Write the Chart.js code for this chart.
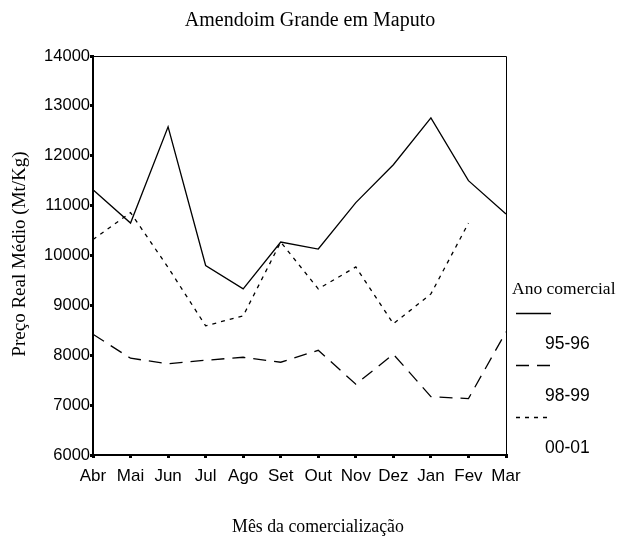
<!DOCTYPE html>
<html>
<head>
<meta charset="utf-8">
<script src="https://cdn.jsdelivr.net/npm/chart.js@4"></script>
<style>
  body { margin: 0; background: #fff; }
  canvas { display: block; }
</style>
</head>
<body>
<canvas id="chart" width="621" height="537"></canvas>
<script>
/* DATA */
const months = ["Abr", "Mai", "Jun", "Jul", "Ago", "Set", "Out", "Nov", "Dez", "Jan", "Fev", "Mar"];
const seasons = ["95-96", "98-99", "00-01"];
const prices9596 = [11320, 10650, 12580, 9800, 9330, 10270, 10130, 11060, 11820, 12760, 11500, 10830];
const prices9899 = [8420, 7940, 7830, 7900, 7960, 7860, 8100, 7420, 8020, 7170, 7130, 8470];
const prices0001 = [10320, 10860, 9760, 8590, 8790, 10270, 9330, 9770, 8630, 9230, 10650, null];
const yTicks = [6000, 7000, 8000, 9000, 10000, 11000, 12000, 13000, 14000];

const chartTitle = "Amendoim Grande em Maputo";
const xTitle = "Mês da comercialização";
const yTitle = "Preço Real Médio (Mt/Kg)";
const legendTitle = "Ano comercial";

/* STYLE */
const SERIF = "'Liberation Serif', 'Times New Roman', serif";
const SANS = "'Liberation Sans', Arial, sans-serif";
const dashes = [[], [13, 8], [4, 5]];

// title, frame, axis titles and the legend on the right
const extrasPlugin = {
  id: "extras",
  afterDraw(chart) {
    const ctx = chart.ctx;
    const area = chart.chartArea;
    ctx.save();

    // top + right border of the plot box
    ctx.strokeStyle = "#000";
    ctx.lineWidth = 1;
    ctx.beginPath();
    ctx.moveTo(area.left, area.top + 0.5);
    ctx.lineTo(area.right + 0.5, area.top + 0.5);
    ctx.lineTo(area.right + 0.5, area.bottom);
    ctx.stroke();

    ctx.fillStyle = "#000";
    ctx.textBaseline = "middle";
    ctx.textAlign = "center";

    // main title
    ctx.font = `20px ${SERIF}`;
    ctx.fillText(chartTitle, 310, 21);

    // x title
    ctx.font = `17.8px ${SERIF}`;
    ctx.fillText(xTitle, 318, 527);

    // y title
    ctx.save();
    ctx.font = `19px ${SERIF}`;
    ctx.translate(20, 254);
    ctx.rotate(-Math.PI / 2);
    ctx.fillText(yTitle, 0, 0);
    ctx.restore();

    // legend
    ctx.textAlign = "left";
    ctx.font = `17.5px ${SERIF}`;
    ctx.fillText(legendTitle, 512, 289);

    chart.data.datasets.forEach((ds, i) => {
      const y = 313.5 + i * 52;
      ctx.setLineDash(ds.borderDash);
      ctx.lineWidth = ds.borderWidth;
      ctx.beginPath();
      ctx.moveTo(516, y);
      ctx.lineTo(551, y);
      ctx.stroke();
      ctx.setLineDash([]);
      ctx.font = `17.5px ${SANS}`;
      ctx.fillText(ds.label, 545, y + 31);
    });

    ctx.restore();
  },
};

const chartCanvas = document.getElementById("chart");

const seriesValues = [prices9596, prices9899, prices0001];

const lineChart = new Chart(chartCanvas, {
  type: "line",
  data: {
    labels: months,
    datasets: seasons.map((season, i) => ({
      label: season,
      data: seriesValues[i],
      borderColor: "#000",
      borderWidth: 1.3,
      borderDash: dashes[i],
      pointRadius: 0,
      fill: false,
      tension: 0,
      spanGaps: false,
    })),
  },
  options: {
    responsive: false,
    animation: false,
    devicePixelRatio: 1,
    layout: {
      padding: { left: 0, right: 115, top: 56, bottom: 0 },
    },
    plugins: {
      legend: { display: false },
      tooltip: { enabled: false },
      title: { display: false },
    },
    scales: {
      x: {
        offset: false,
        afterFit: (s) => {
          s.height = 82;
        },
        grid: {
          drawOnChartArea: false,
          drawTicks: true,
          tickLength: 3,
          lineWidth: 3,
          color: "#000",
        },
        border: { display: true, width: 2, color: "#000" },
        ticks: {
          color: "#000",
          font: { family: SANS, size: 17 },
          padding: 8,
          maxRotation: 0,
          autoSkip: false,
        },
      },
      y: {
        min: 6000,
        max: 14000,
        afterFit: (s) => {
          s.width = 93;
        },
        afterBuildTicks: (s) => {
          s.ticks = yTicks.map((v) => ({ value: v }));
        },
        grid: {
          drawOnChartArea: false,
          drawTicks: true,
          tickLength: 3,
          lineWidth: 3,
          color: "#000",
        },
        border: { display: true, width: 2, color: "#000" },
        ticks: {
          color: "#000",
          font: { family: SANS, size: 16.5 },
          padding: 0,
          callback: (v) => String(v),
        },
      },
    },
  },
  plugins: [extrasPlugin],
});
</script>
</body>
</html>
